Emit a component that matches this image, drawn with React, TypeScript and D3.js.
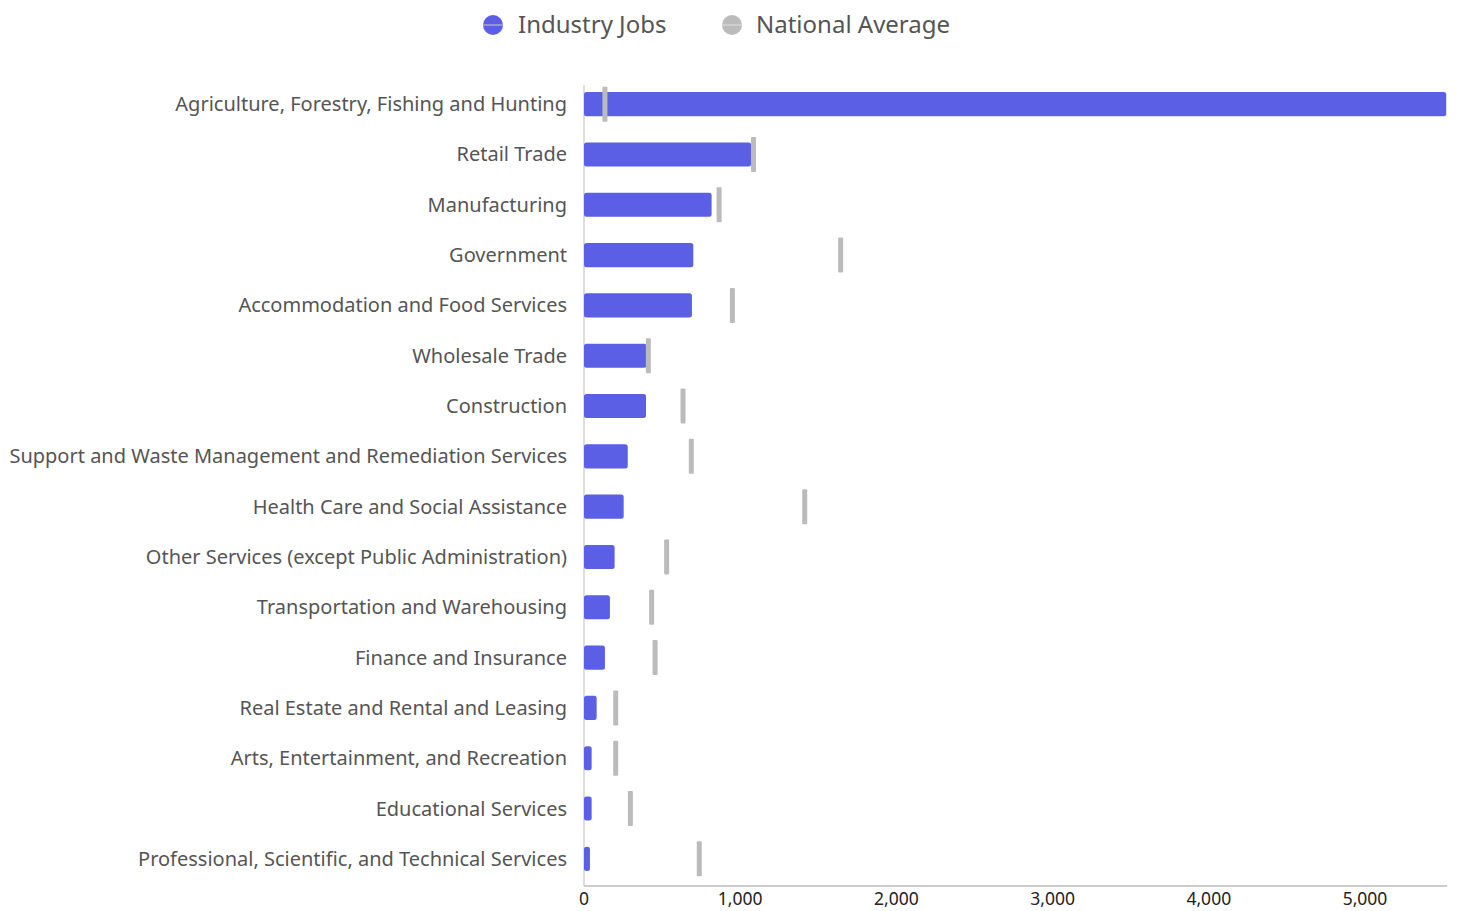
import React from "react";
import * as d3 from "d3";

const categories = [
  "Agriculture, Forestry, Fishing and Hunting",
  "Retail Trade",
  "Manufacturing",
  "Government",
  "Accommodation and Food Services",
  "Wholesale Trade",
  "Construction",
  "Support and Waste Management and Remediation Services",
  "Health Care and Social Assistance",
  "Other Services (except Public Administration)",
  "Transportation and Warehousing",
  "Finance and Insurance",
  "Real Estate and Rental and Leasing",
  "Arts, Entertainment, and Recreation",
  "Educational Services",
  "Professional, Scientific, and Technical Services",
];
const industryJobs = [5520, 1070, 817, 700, 691, 401, 397, 280, 254, 196, 166, 134, 81, 49, 49, 38];
const nationalAverage = [134, 1085, 865, 1643, 950, 412, 634, 687, 1413, 529, 433, 455, 203, 203, 297, 738];
const ticks = [0, 1000, 2000, 3000, 4000, 5000];
const seriesNames = ["Industry Jobs", "National Average"];

const W = 1461, H = 911;
const left = 584, right = 1447, top = 79, bottom = 884;
const BLUE = "#5b5fe6";
const GRAY = "#bbbbbb";
const FONT = "'Noto Sans', sans-serif";

export default function App() {
  const x = d3.scaleLinear().domain([0, 5525]).range([left, right]);
  const y = d3.scaleBand<string>().domain(categories).range([top, bottom]).paddingInner(0.52).paddingOuter(0.26);
  const bh = y.bandwidth();
  return (
    <svg width={W} height={H} style={{ position: "absolute", left: 0, top: 0, background: "#fff" }}>
      {/* legend */}
      <g fontFamily={FONT} fontSize={24} fill="#555">
        <circle cx={493} cy={25} r={10} fill={BLUE} />
        <line x1={483} x2={503} y1={25} y2={25} stroke="#aab" strokeWidth={1.5} />
        <text x={518} y={33}>{seriesNames[0]}</text>
        <circle cx={732} cy={25} r={10} fill={GRAY} />
        <line x1={722} x2={742} y1={25} y2={25} stroke="#d4d4d4" strokeWidth={1.5} />
        <text x={756} y={33}>{seriesNames[1]}</text>
      </g>
      {/* axis lines */}
      <line x1={left} x2={left} y1={top + 6} y2={bottom + 2} stroke="#dddddd" strokeWidth={2} />
      <line x1={left} x2={right} y1={886} y2={886} stroke="#cccccc" strokeWidth={2} />
      {ticks.map((t) => (
        <text key={t} x={x(t)} y={905} textAnchor="middle" fontFamily={FONT} fontSize={17.5} fill="#222">
          {d3.format(",")(t)}
        </text>
      ))}
      {categories.map((c, i) => {
        const yc = (y(c) as number) + bh / 2;
        return (
          <g key={c}>
            <text x={567} y={yc + 7} textAnchor="end" fontFamily={FONT} fontSize={20} fill="#555">
              {c}
            </text>
            <rect x={x(0)} y={yc - bh / 2} width={x(industryJobs[i]) - x(0)} height={bh} rx={2.5} fill={BLUE} />
            <rect x={x(nationalAverage[i]) - 2.5} y={yc - 17.5} width={5} height={35} rx={1} fill={GRAY} />
          </g>
        );
      })}
    </svg>
  );
}
